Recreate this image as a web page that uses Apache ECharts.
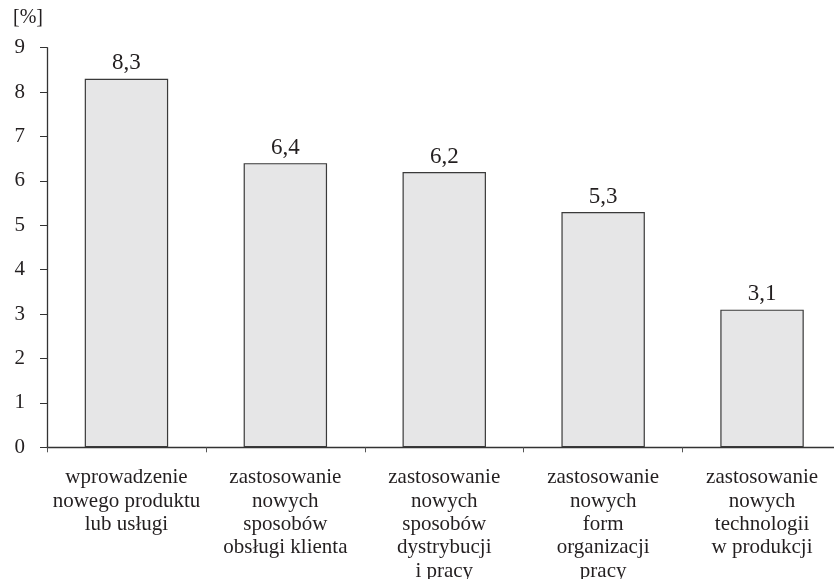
<!DOCTYPE html>
<html>
<head>
<meta charset="utf-8">
<script src="https://cdn.jsdelivr.net/npm/echarts@6/dist/echarts.min.js"></script>
<style>html,body{margin:0;padding:0;background:#fff}#c{width:834px;height:579px}</style>
</head>
<body>
<div id="c"></div>
<script>
var categories = [
  "wprowadzenie\nnowego produktu\nlub usługi",
  "zastosowanie\nnowych\nsposobów\nobsługi klienta",
  "zastosowanie\nnowych\nsposobów\ndystrybucji\ni pracy",
  "zastosowanie\nnowych\nform\norganizacji\npracy",
  "zastosowanie\nnowych\ntechnologii\nw produkcji"
];
var values = [8.3, 6.4, 6.2, 5.3, 3.1];
var yTicks = [0, 1, 2, 3, 4, 5, 6, 7, 8, 9];

var FONT = "Liberation Serif";
var TXT = "#231f20";
var chart = echarts.init(document.getElementById('c'));
chart.setOption({
  animation: false,
  textStyle: { fontFamily: FONT, color: TXT },
  grid: { left: 47, right: -7.5, top: 47.7, bottom: 131.7, containLabel: false, outerBoundsMode: 'none' },
  xAxis: {
    type: 'category',
    data: categories,
    axisLine: { lineStyle: { color: '#333', width: 1.3 } },
    axisTick: { show: true, length: 5, lineStyle: { color: '#555', width: 1 } },
    axisLabel: { fontFamily: FONT, fontSize: 21, color: TXT, lineHeight: 23.3, margin: 19, interval: 0 }
  },
  yAxis: {
    type: 'value',
    min: yTicks[0],
    max: yTicks[yTicks.length - 1],
    interval: 1,
    name: '[%]',
    nameLocation: 'end',
    nameGap: 20,
    nameTextStyle: { fontFamily: FONT, fontSize: 20, color: TXT, align: 'center', padding: [0, 38, 0, 0] },
    splitLine: { show: false },
    axisLine: { show: true, lineStyle: { color: '#333', width: 1.3 } },
    axisTick: { show: true, length: 7, lineStyle: { color: '#333', width: 1 } },
    axisLabel: { fontFamily: FONT, fontSize: 21, color: TXT, margin: 22,
      formatter: function (v) { return String(v); } }
  },
  series: [{
    type: 'bar',
    data: values,
    barCategoryGap: '47.5%',
    itemStyle: { color: '#e6e6e7', borderColor: '#3a3a3a', borderWidth: 1.2 },
    label: {
      show: true, position: 'top', distance: 4,
      fontFamily: FONT, fontSize: 23, color: TXT,
      formatter: function (p) { return String(p.value).replace('.', ','); }
    }
  }]
});
</script>
</body>
</html>
